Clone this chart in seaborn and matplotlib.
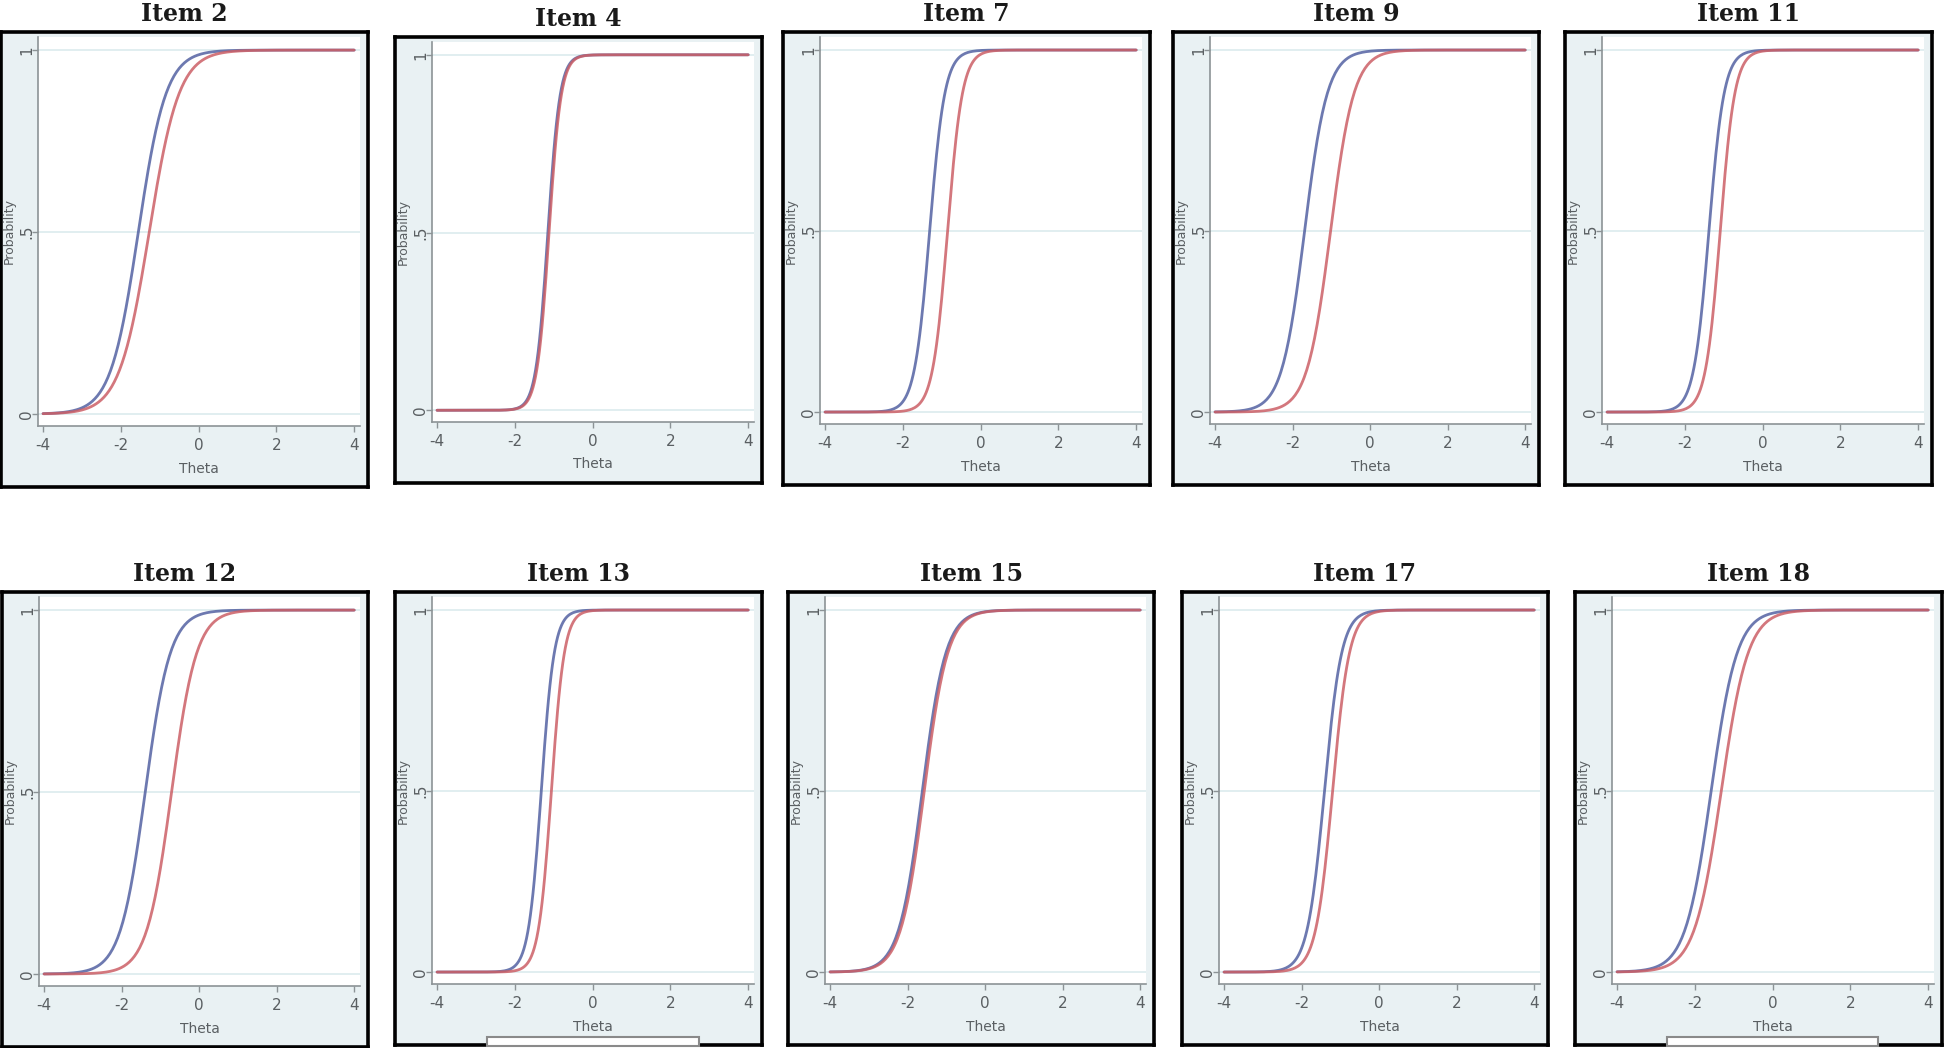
import numpy as np
import pandas as pd
import seaborn as sns
import matplotlib.pyplot as plt
from matplotlib.patches import Rectangle

sns.set_theme(style="white")
plt.rcParams['font.family'] = ['DejaVu Sans']

# item titles, in panel order (row 1 then row 2)
items = ["Item 2", "Item 4", "Item 7", "Item 9", "Item 11",
         "Item 12", "Item 13", "Item 15", "Item 17", "Item 18"]

# 2PL item parameters (blue group / red group)
disc_blue = [2.8, 6.5, 5.1, 3.4, 5.1, 3.1, 6.0, 3.3, 4.5, 3.0]
diff_blue = [-1.55, -1.15, -1.31, -1.69, -1.38, -1.39, -1.32, -1.62, -1.41, -1.58]
disc_red = [2.6, 6.5, 5.2, 3.3, 5.3, 3.1, 6.0, 3.3, 4.6, 2.9]
diff_red = [-1.27, -1.12, -0.85, -1.02, -1.09, -0.71, -1.06, -1.57, -1.20, -1.32]

x_ticks = [-4, -2, 0, 2, 4]
y_ticks = [0, 0.5, 1]
y_ticklabels = ["0", ".5", "1"]

theta = np.linspace(-4, 4, 241)

W, H = 1946, 1048
fig = plt.figure(figsize=(W / 100, H / 100), dpi=100)
fig.patch.set_facecolor("white")

# panel frames in pixels: x0, x1, y0, y1 (y from top)
frames = [(1, 368, 32, 487), (395, 762, 37, 483), (783, 1150, 32, 485),
          (1173, 1539, 32, 485), (1565, 1932, 32, 485),
          (2, 368, 592, 1047), (395, 762, 592, 1045), (788, 1154, 592, 1045),
          (1182, 1548, 592, 1045), (1575, 1942, 592, 1045)]

blue = "#5462a2"
red = "#cc5f66"
panel_bg = "#e9f1f3"
grid_c = "#dcebee"
axis_c = "#8c9396"
text_c = "#5a5f62"


def px_rect(x0, x1, y0, y1):
    return [x0 / W, 1 - y1 / H, (x1 - x0) / W, (y1 - y0) / H]


for i, name in enumerate(items):
    x0, x1, y0, y1 = frames[i]

    # outer frame with light background
    fr = fig.add_axes(px_rect(x0, x1, y0, y1))
    fr.set_facecolor(panel_bg)
    fr.set_xticks([])
    fr.set_yticks([])
    for s in fr.spines.values():
        s.set_color("black")
        s.set_linewidth(2.6)

    fig.text((x0 + x1) / 2 / W, 1 - (y0 - 18) / H, name, ha="center", va="center",
             fontsize=17, fontweight="bold", family="DejaVu Serif", color="#1a1a1a")

    ax = fig.add_axes(px_rect(x0 + 37, x1 - 8, y0 + 5, y1 - 61))
    ax.set_facecolor("white")

    df = pd.DataFrame({
        "Theta": np.concatenate([theta, theta]),
        "Probability": np.concatenate([
            1 / (1 + np.exp(-disc_blue[i] * (theta - diff_blue[i]))),
            1 / (1 + np.exp(-disc_red[i] * (theta - diff_red[i])))]),
        "Group": ["blue"] * len(theta) + ["red"] * len(theta)})

    for y in y_ticks:
        ax.axhline(y, color=grid_c, lw=1.2, zorder=0)

    sns.lineplot(data=df, x="Theta", y="Probability", hue="Group",
                 palette={"blue": blue, "red": red}, lw=2.0, alpha=0.85,
                 legend=False, ax=ax)

    ax.set_xlim(-4.13, 4.15)
    ax.set_ylim(-0.033, 1.036)
    ax.set_xticks(x_ticks)
    ax.set_xticklabels([str(t) for t in x_ticks])
    ax.set_yticks(y_ticks)
    ax.set_yticklabels(y_ticklabels, rotation=90, va="center", ha="center")
    ax.tick_params(axis="both", length=4, width=1, color=axis_c, labelcolor=text_c,
                   labelsize=11, direction="out", bottom=True, left=True)
    ax.tick_params(axis="x", pad=5)
    ax.tick_params(axis="y", pad=4)

    for side in ["top", "right"]:
        ax.spines[side].set_visible(False)
    for side in ["left", "bottom"]:
        ax.spines[side].set_color(axis_c)
        ax.spines[side].set_linewidth(1.2)

    ax.set_xlabel("Theta", fontsize=10, color=text_c)
    ax.set_ylabel("Probability", fontsize=9, color=text_c)
    ax.xaxis.set_label_coords(0.5, -0.092)
    ax.yaxis.set_label_coords(-0.068, 0.5)

# cut-off legend boxes under two of the panels
for (lx0, lx1) in [(487, 699), (1667, 1878)]:
    fig.patches.append(Rectangle((lx0 / W, 1 - 1046 / H), (lx1 - lx0) / W, 9 / H,
                                 transform=fig.transFigure, facecolor="white",
                                 edgecolor="#8a8a8a", lw=1.5, zorder=5))

fig.savefig("out.png", dpi=100)
